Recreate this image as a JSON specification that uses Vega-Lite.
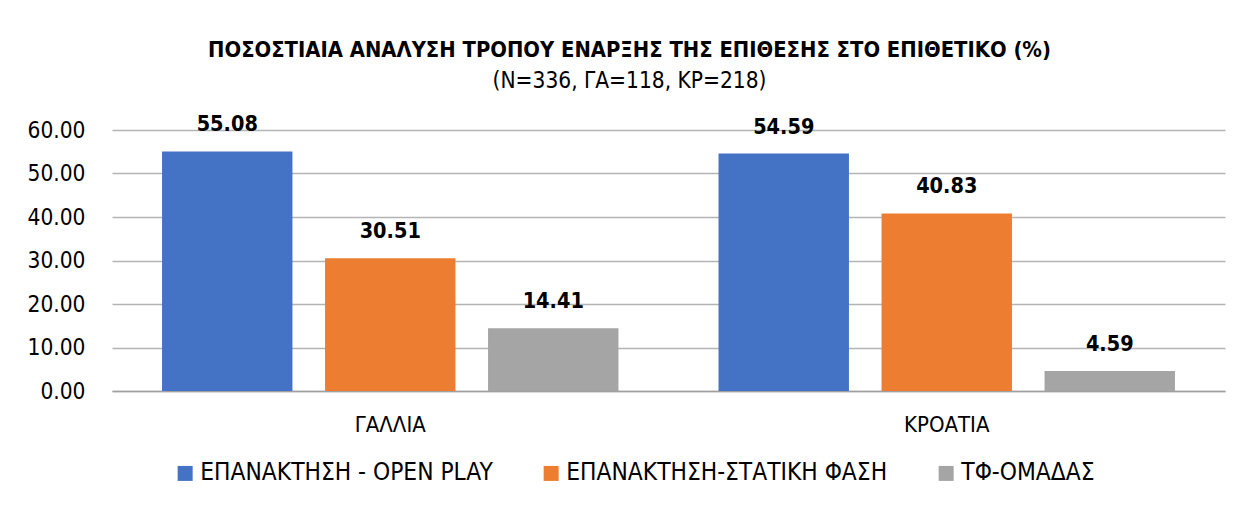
{
  "$schema": "https://vega.github.io/schema/vega-lite/v6.json",
  "autosize": "none",
  "width": 1113,
  "height": 261,
  "padding": {"left": 112, "top": 130, "right": 11, "bottom": 125},
  "background": "white",
  "config": {
    "font": "Liberation Sans Narrow, DejaVu Sans Condensed, Roboto",
    "view": {"stroke": null}
  },
  "title": {
    "text": "ΠΟΣΟΣΤΙΑΙΑ ΑΝΑΛΥΣΗ ΤΡΟΠΟΥ ΕΝΑΡΞΗΣ ΤΗΣ ΕΠΙΘΕΣΗΣ ΣΤΟ ΕΠΙΘΕΤΙΚΟ (%)",
    "subtitle": "(N=336, ΓΑ=118, ΚΡ=218)",
    "fontSize": 21.8,
    "fontWeight": "bold",
    "subtitleFontSize": 22.5,
    "subtitleColor": "black",
    "color": "black",
    "subtitlePadding": 8,
    "anchor": "middle",
    "dx": -39,
    "offset": 22
  },
  "data": {
    "values": [
      {"country": "ΓΑΛΛΙΑ", "series": "ΕΠΑΝΑΚΤΗΣΗ - OPEN PLAY", "value": 55.08},
      {"country": "ΓΑΛΛΙΑ", "series": "ΕΠΑΝΑΚΤΗΣΗ-ΣΤΑΤΙΚΗ ΦΑΣΗ", "value": 30.51},
      {"country": "ΓΑΛΛΙΑ", "series": "ΤΦ-ΟΜΑΔΑΣ", "value": 14.41},
      {"country": "ΚΡΟΑΤΙΑ", "series": "ΕΠΑΝΑΚΤΗΣΗ - OPEN PLAY", "value": 54.59},
      {"country": "ΚΡΟΑΤΙΑ", "series": "ΕΠΑΝΑΚΤΗΣΗ-ΣΤΑΤΙΚΗ ΦΑΣΗ", "value": 40.83},
      {"country": "ΚΡΟΑΤΙΑ", "series": "ΤΦ-ΟΜΑΔΑΣ", "value": 4.59}
    ]
  },
  "encoding": {
    "x": {
      "field": "country", "type": "nominal", "sort": null,
      "scale": {"paddingInner": 0, "paddingOuter": 0},
      "axis": {"title": null, "labelAngle": 0, "labelFontSize": 22, "labelColor": "black", "labelPadding": 23, "ticks": false, "domainColor": "#a0a0a0", "domainWidth": 1.5}
    },
    "xOffset": {
      "field": "series", "type": "nominal", "sort": null,
      "scale": {"paddingInner": 0.2, "paddingOuter": 0.307}
    },
    "y": {
      "field": "value", "type": "quantitative",
      "scale": {"domain": [0, 60]},
      "axis": {"title": null, "format": ".2f", "tickCount": 6, "labelFontSize": 22.5, "labelColor": "black", "labelPadding": 27, "ticks": false, "domain": false, "gridColor": "#b4b4b4", "gridWidth": 1.3}
    }
  },
  "layer": [
    {
      "mark": {"type": "bar"},
      "encoding": {
        "color": {
          "field": "series", "type": "nominal", "sort": null,
          "scale": {"range": ["#4472C4", "#ED7D31", "#A5A5A5"]},
          "legend": {
            "title": null, "orient": "none", "direction": "horizontal",
            "legendX": 61, "legendY": 331,
            "symbolType": "square", "symbolSize": 225, "symbolStrokeWidth": 0,
            "labelFontSize": 24.3, "labelColor": "black", "labelOffset": 3, "labelLimit": 0,
            "columnPadding": 46
          }
        }
      }
    },
    {
      "mark": {"type": "text", "baseline": "bottom", "dy": -15, "fontSize": 21.5, "fontWeight": "bold", "color": "black"},
      "encoding": {
        "text": {"field": "value", "type": "quantitative", "format": ".2f"}
      }
    }
  ]
}
